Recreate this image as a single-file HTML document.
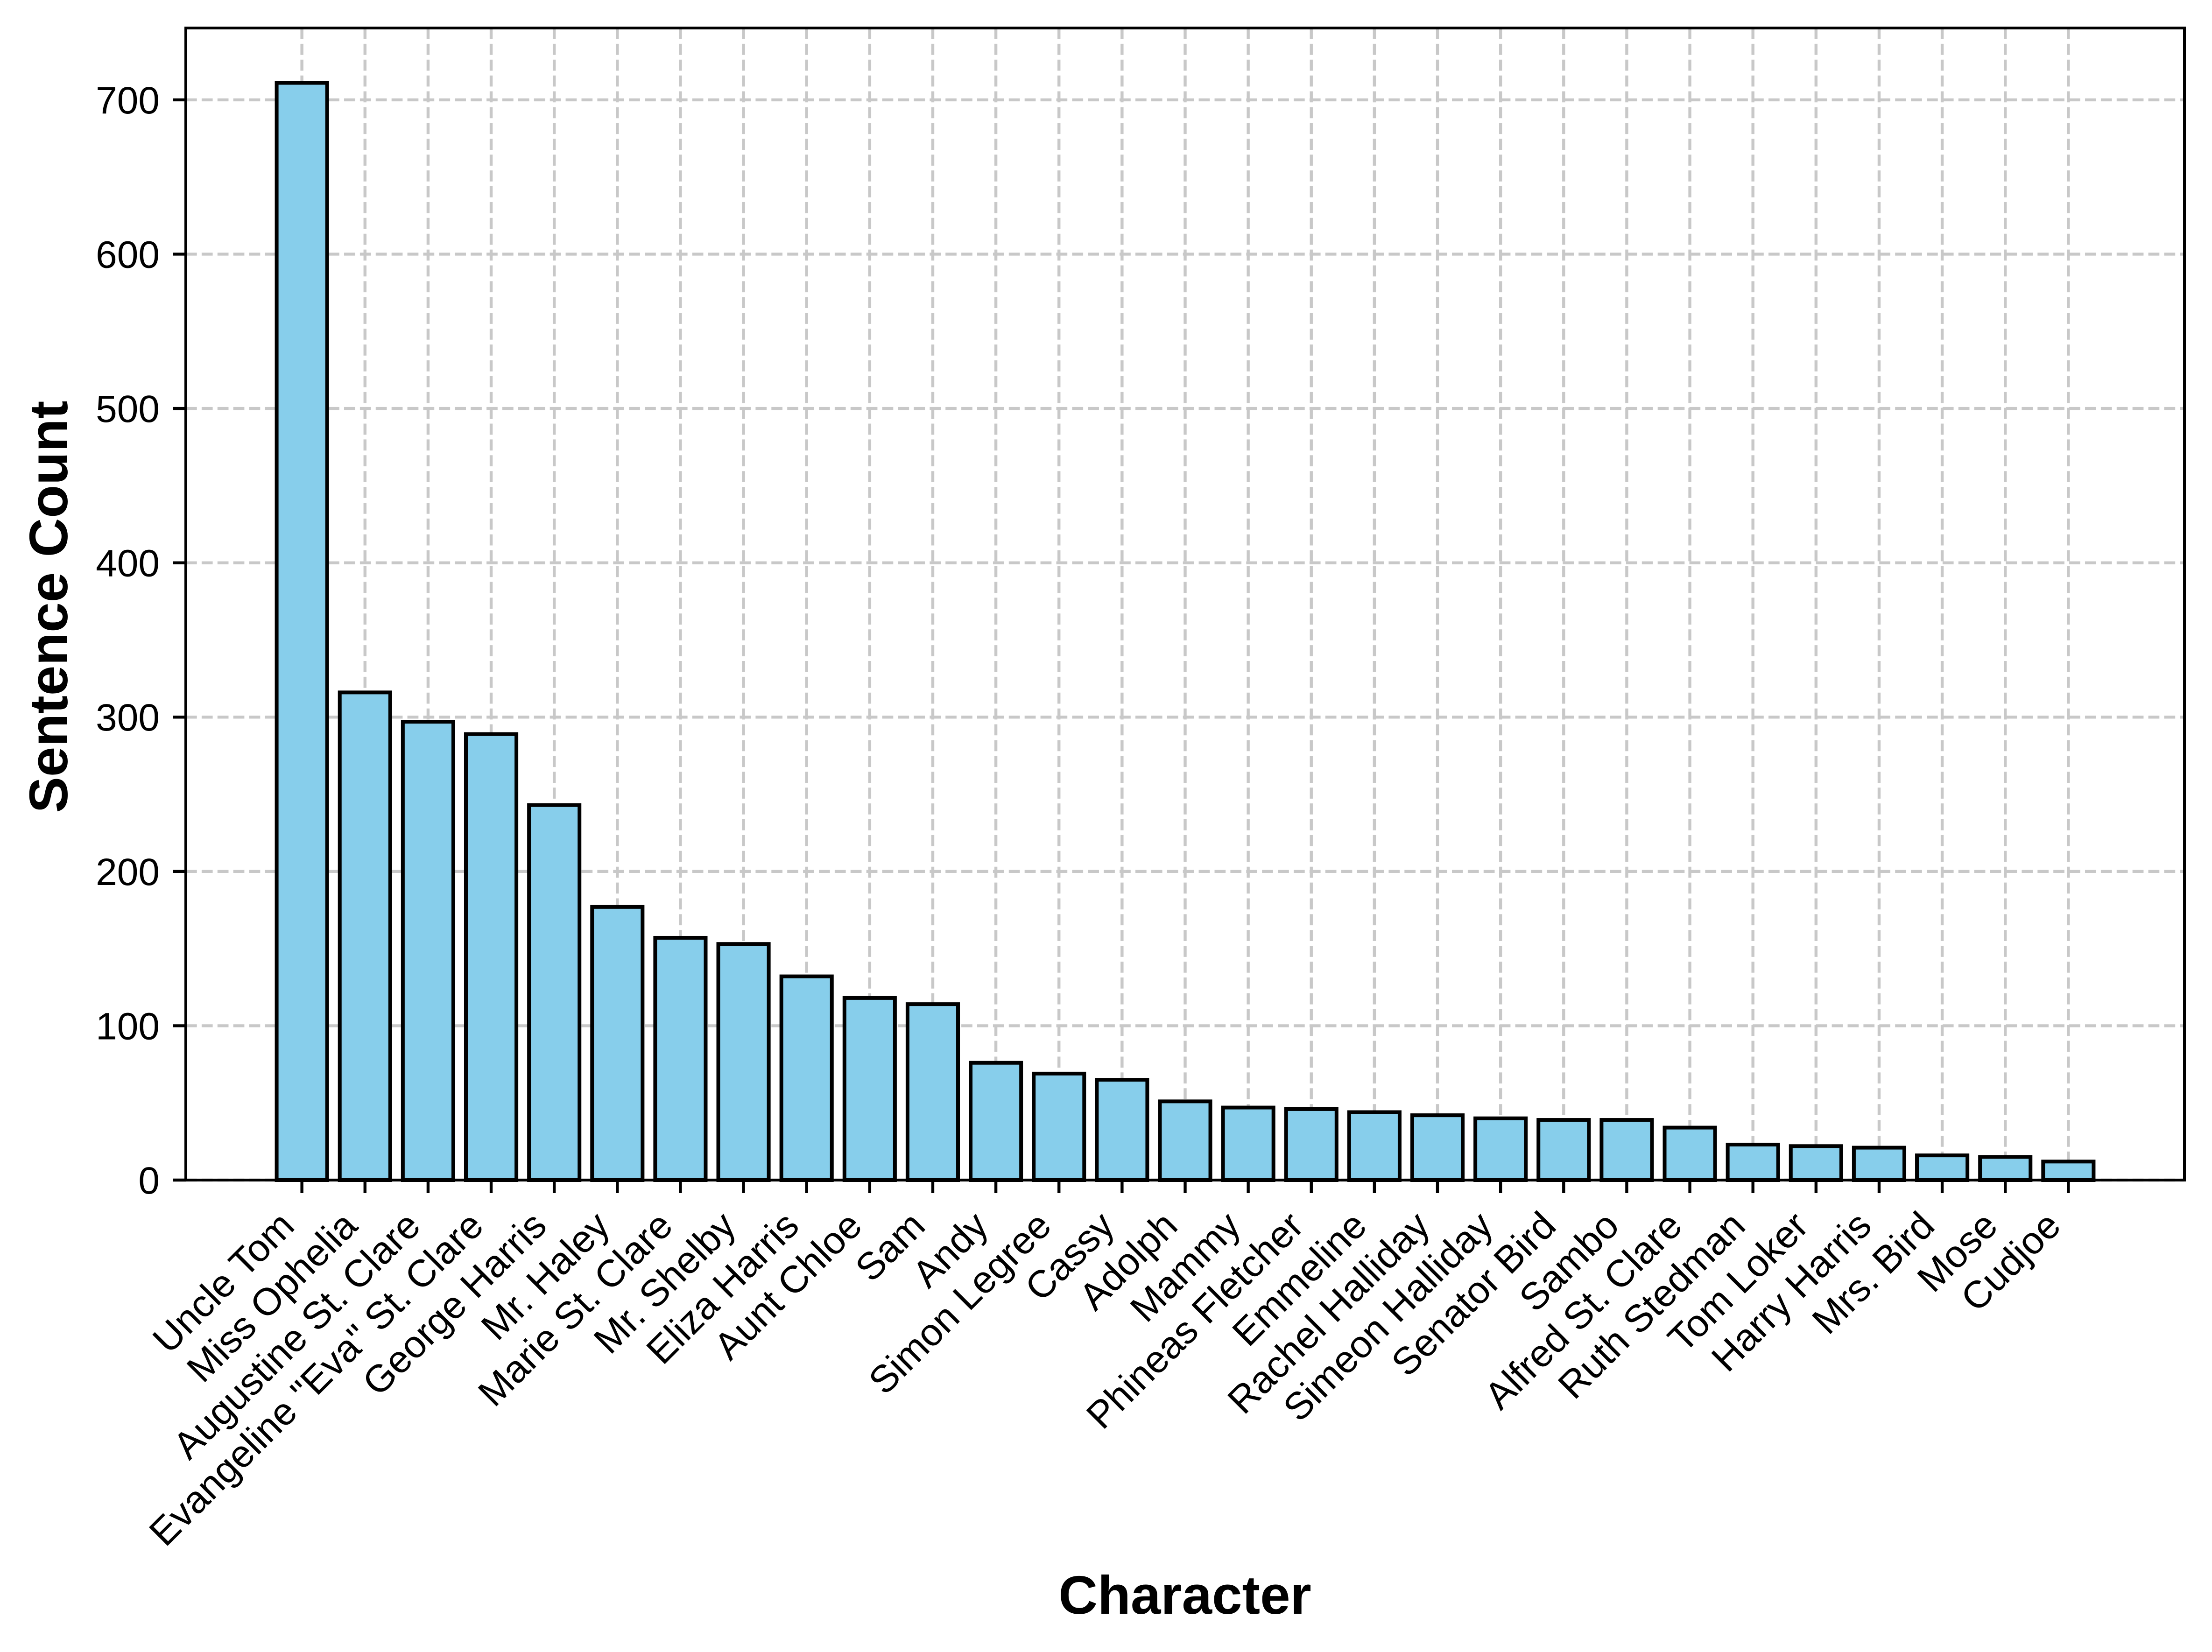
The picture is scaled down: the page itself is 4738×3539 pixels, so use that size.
<!DOCTYPE html>
<html><head><meta charset="utf-8"><style>
html,body{margin:0;padding:0;background:#fff;}
svg{display:block;}
text{font-family:"Liberation Sans",Arial,sans-serif;fill:#000;}
</style></head><body>
<svg id="chart" width="4738" height="3539" viewBox="0 0 4738 3539" xmlns="http://www.w3.org/2000/svg">
<rect x="0" y="0" width="4738" height="3539" fill="#fff"/>
<g id="grid"></g>
<g id="bars"></g>
<g id="axes"></g>
<text x="2538" y="3457" text-anchor="middle" font-weight="bold" font-size="116">Character</text>
<text x="144" y="1300" text-anchor="middle" font-weight="bold" font-size="116" transform="rotate(-90 144 1300)">Sentence Count</text>
</svg>
<script>
const categories = ["Uncle Tom","Miss Ophelia","Augustine St. Clare","Evangeline \"Eva\" St. Clare","George Harris","Mr. Haley","Marie St. Clare","Mr. Shelby","Eliza Harris","Aunt Chloe","Sam","Andy","Simon Legree","Cassy","Adolph","Mammy","Phineas Fletcher","Emmeline","Rachel Halliday","Simeon Halliday","Senator Bird","Sambo","Alfred St. Clare","Ruth Stedman","Tom Loker","Harry Harris","Mrs. Bird","Mose","Cudjoe"];
const sentenceCounts = [711,316,297,289,243,177,157,153,132,118,114,76,69,65,51,47,46,44,42,40,39,39,34,23,22,21,16,15,12];
const yTicks = [0,100,200,300,400,500,600,700];

const NS = "http://www.w3.org/2000/svg";
const L = 398, R = 4679, T = 60, B = 2528;
const n = categories.length;
const xmin = -0.4 - 0.05*(n - 1 + 0.8), xmax = n - 1 + 0.4 + 0.05*(n - 1 + 0.8);
const ymax = Math.max(...sentenceCounts) * 1.05;
function xs(v){ return L + (v - xmin) / (xmax - xmin) * (R - L); }
function ys(v){ return B - v / ymax * (B - T); }
function mk(tag, attrs, parent){ const e = document.createElementNS(NS, tag); for (const k in attrs) e.setAttribute(k, attrs[k]); parent.appendChild(e); return e; }

const grid = document.getElementById('grid');
const bars = document.getElementById('bars');
const axes = document.getElementById('axes');
const gridStyle = {stroke:'#c8c8c8', 'stroke-width':6.4, 'stroke-dasharray':'23.7 10.2'};

yTicks.forEach(t => {
  const y = ys(t);
  const g = mk('line', Object.assign({x1:L, x2:R, y1:y, y2:y}, gridStyle), grid);
  
  
  const tk = mk('line', {x1:L-28, x2:L, y1:y, y2:y, stroke:'#000', 'stroke-width':6.4}, axes);
  
  
  const lb = mk('text', {x:L-56, y:y+29, 'text-anchor':'end', 'font-size':82}, axes);
  lb.textContent = String(t);
  
  
});

categories.forEach((c, i) => {
  const cx = xs(i);
  const g = mk('line', Object.assign({x1:cx, x2:cx, y1:T, y2:B}, gridStyle), grid);
  
  
  const x0 = xs(i - 0.4), x1 = xs(i + 0.4);
  const top = ys(sentenceCounts[i]);
  const r = mk('rect', {x:x0, y:top, width:x1 - x0, height:B - top, fill:'#87ceeb', stroke:'#000', 'stroke-width':8}, bars);
  
  
  const tk = mk('line', {x1:cx, x2:cx, y1:B, y2:B+28, stroke:'#000', 'stroke-width':6.4}, axes);
  
  
  const px = cx - 12, py = B + 56 + 0.707*66;
  const lb = mk('text', {x:px, y:py, 'text-anchor':'end', 'font-size':82, transform:'rotate(-45 ' + px + ' ' + py + ')'}, axes);
  lb.textContent = c;
  
  
});

const frame = mk('rect', {x:L, y:T, width:R - L, height:B - T, fill:'none', stroke:'#000', 'stroke-width':6}, axes);


</script>
</body></html>
